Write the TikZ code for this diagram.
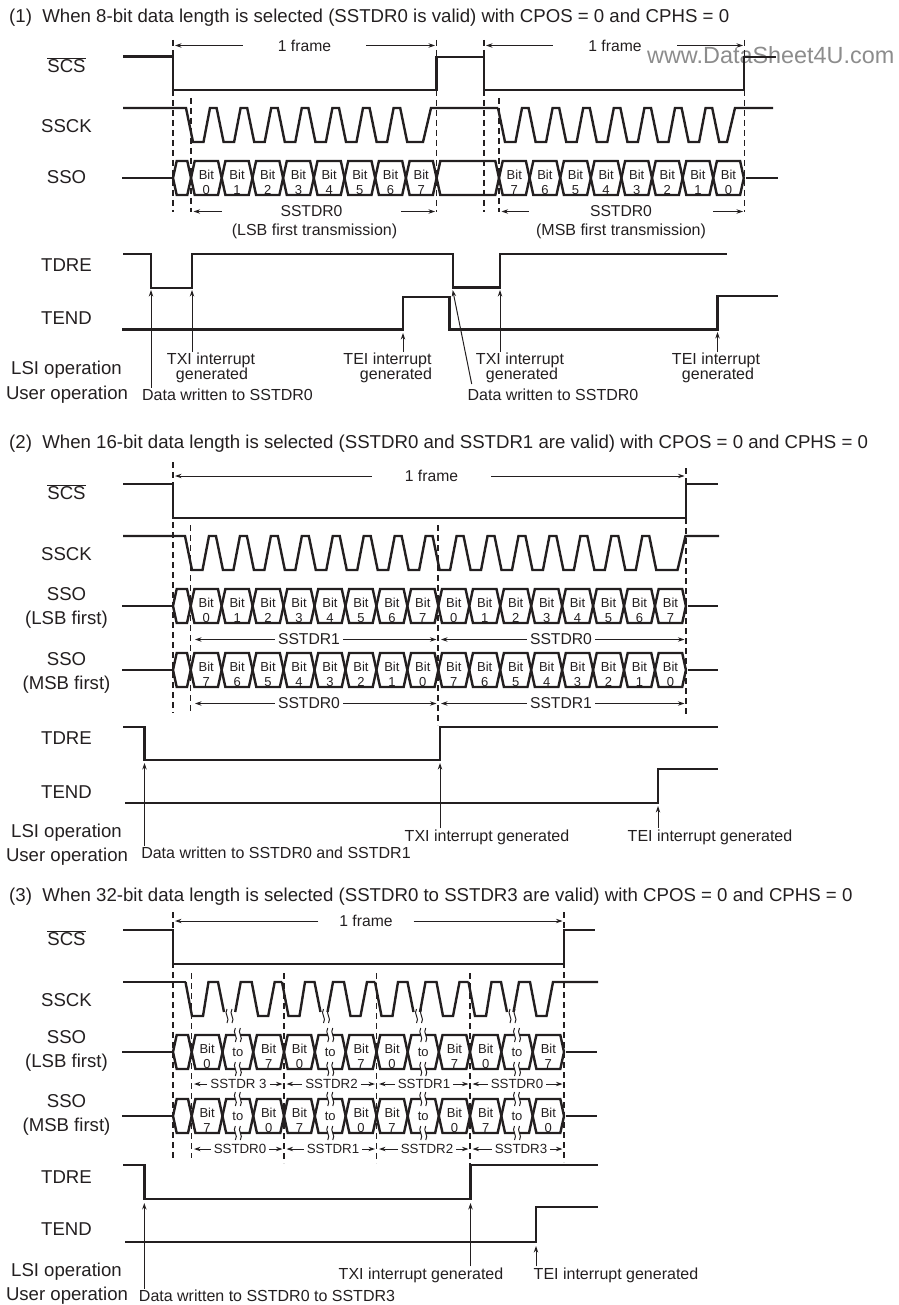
\documentclass[tikz,border=0pt]{standalone}
\usepackage{fontspec}
\setmainfont{Liberation Sans}
\usetikzlibrary{arrows.meta}
\definecolor{sigInk}{RGB}{35,31,32}
\newcommand{\busCell}[3]{\draw[wave] (#1,#3+17) -- (#1+3.7,#3) -- (#2-3.7,#3) -- (#2,#3+17) -- (#2-3.7,#3+34) -- (#1+3.7,#3+34) -- cycle;}
\newcommand{\bitRow}[5]{%
  \foreach \bitno [count=\cnt from 0] in {#5} {
    \pgfmathsetmacro{\xa}{#2+\cnt*#3}
    \pgfmathsetmacro{\xb}{\xa+#3}
    \busCell{\xa}{\xb}{#4}
    \node[bitlbl] (#1\cnt) at ({(\xa+\xb)/2},#4+21) {Bit\\\bitno};
  }}
\newcommand{\clockRow}[7]{%
  \pgfmathtruncatemacro{\nlast}{#4-2}
  \draw[wave] (#1,#5) foreach \cnt in {0,...,\nlast} {
      -- ({#2+\cnt*#3-5},#5) -- ({#2+\cnt*#3+2},#5+34) -- ({#2+\cnt*#3+12.5},#5+34) -- ({#2+\cnt*#3+19},#5)
    } -- ({#2+(#4-1)*#3-5},#5) -- ({#2+(#4-1)*#3+2},#5+34) -- (#6,#5+34) -- (#6+8,#5) -- (#7,#5);}
\newcommand{\spanMark}[7][]{%
  \node[spanlbl,#1] (#2) at (#5,#6) {#7};
  \coordinate (#2L) at (#3,#6);
  \coordinate (#2R) at (#4,#6);
  \draw[dim] (#2.west) -- (#2L);
  \draw[dim] (#2.east) -- (#2R);}
\newcommand{\wavyBreak}[2]{%
  \fill[white] (#1-2.5,#2-3) rectangle (#1+2.5,#2+3);
  \draw[brk] (#1-2.5,#2-7) .. controls (#1-6,#2-2) and (#1+1,#2+2) .. (#1-2.5,#2+7);
  \draw[brk] (#1+2.5,#2-7) .. controls (#1-1,#2-2) and (#1+6,#2+2) .. (#1+2.5,#2+7);}
\newcommand{\toRow}[4]{%
  \foreach \ga/\gb [count=\cnt] in {191.7/284,284/376.5,376.5/470,470/564} {
    \pgfmathsetmacro{\pa}{\ga+(\gb-\ga)/3}
    \pgfmathsetmacro{\pb}{\ga+2*(\gb-\ga)/3}
    \pgfmathsetmacro{\pc}{(\pa+\pb)/2}
    \busCell{\ga}{\pa}{#2}
    \busCell{\pa}{\pb}{#2}
    \busCell{\pb}{\gb}{#2}
    \node[bitlbl] (#1a\cnt) at ({(\ga+\pa)/2},#2+21) {Bit\\#3};
    \node[bitlbl] (#1t\cnt) at (\pc,#2+17) {to};
    \node[bitlbl] (#1b\cnt) at ({(\pb+\gb)/2},#2+21) {Bit\\#4};
    \wavyBreak{\pc}{#2}
    \wavyBreak{\pc}{#2+34}
  }}

\begin{document}
\begin{tikzpicture}[x=1pt,y=-1pt,
  wave/.style={draw=sigInk, line width=2.4pt, line join=miter},
  tick/.style={draw=sigInk, line width=1.1pt, dash pattern=on 6pt off 4pt},
  ptr/.style={draw=sigInk, line width=1pt, -{Stealth[length=6.5pt,width=4.4pt]}},
  dim/.style={draw=sigInk, line width=1pt, -{Stealth[length=6.5pt,width=4.4pt]}},
  brk/.style={draw=sigInk, line width=1pt},
  titlelbl/.style={anchor=west, inner sep=0pt, text=sigInk, font=\fontsize{18.64}{22}\selectfont},
  siglbl/.style={inner sep=0pt, text=sigInk, font=\fontsize{18.6}{24}\selectfont, align=center},
  notelbl/.style={inner sep=1pt, text=sigInk, font=\fontsize{16}{18}\selectfont},
  spanlbl/.style={inner sep=3pt, text=sigInk, font=\fontsize{15.7}{18}\selectfont},
  spansmall/.style={font=\fontsize{13.3}{15}\selectfont},
  bitlbl/.style={inner sep=0pt, text=sigInk, align=center, font=\fontsize{13}{15}\selectfont}
]
  \useasboundingbox (0,0) rectangle (898,1305);
  \node[anchor=west, inner sep=0pt, text=black!45, font=\fontsize{23.4}{26}\selectfont] (wmark) at (647,55) {www.DataSheet4U.com};

  \node[titlelbl] (titleA) at (9,18) {(1)~ When 8-bit data length is selected (SSTDR0 is valid) with CPOS = 0 and CPHS = 0};
  \node[siglbl] (scsA) at (66.5,65) {$\overline{\mbox{SCS}}$};
  \node[siglbl] (sckA) at (66.5,126) {SSCK};
  \node[siglbl] (ssoA) at (66.5,177) {SSO};
  \node[siglbl] (tdreA) at (66.5,265) {TDRE};
  \node[siglbl] (tendA) at (66.5,318) {TEND};
  \node[siglbl] (lsiA) at (66.5,370) {LSI operation};
  \node[siglbl] (userA) at (67,395) {User operation};

  \foreach \xd/\ya/\yb in {173/40/212,436.5/40/212,191/98/212,484/40/212,499/98/212,744.5/40/212}
    \draw[tick] (\xd,\ya) -- (\xd,\yb);

  \draw[wave] (123,56.5) -- (173,56.5) -- (173,90) -- (436.5,90) -- (436.5,57) -- (484,57) -- (484,90) -- (744,90) -- (744,57) -- (776,57);
  \clockRow{123}{191}{30.6}{8}{108}{423}{498}
  \clockRow{498}{503}{30.6}{8}{108}{727}{773}
  \draw[wave] (122,178) -- (173,178);
  \busCell{173}{191}{161}
  \bitRow{bitA}{191}{30.7}{161}{0,1,2,3,4,5,6,7}
  \busCell{436.6}{499}{161}
  \bitRow{bitB}{499}{30.6}{161}{7,6,5,4,3,2,1,0}
  \draw[wave] (746,178) -- (778,178);

  \spanMark[minimum width=123pt]{frameA}{175}{435}{304.5}{45.5}{1 frame}
  \spanMark[minimum width=124pt]{frameB}{486}{743}{615}{45.5}{1 frame}
  \spanMark[minimum width=179pt]{spanA}{193.5}{435}{311.5}{211.5}{SSTDR0}
  \spanMark[minimum width=184pt]{spanB}{501.5}{743}{621}{211.5}{SSTDR0}
  \node[notelbl] (lsbA) at (314.5,231) {(LSB first transmission)};
  \node[notelbl] (msbB) at (621,231) {(MSB first transmission)};

  \draw[wave] (123,254) -- (151,254) -- (151,288) -- (192,288) -- (192,254) -- (452.7,254) -- (452.7,287.5) -- (500,287.5) -- (500,254) -- (727,254);
  \draw[wave] (122,329.5) -- (403,329.5) -- (403,297) -- (449.5,297) -- (449.5,329.5) -- (717.5,329.5) -- (717.5,296) -- (778,296);

  \node[notelbl] (txiA) at (211,360.5) {TXI interrupt};
  \node[notelbl] (genA) at (212,375) {generated};
  \node[notelbl] (teiA) at (387.5,360.5) {TEI interrupt};
  \node[notelbl] (genB) at (396,375) {generated};
  \node[notelbl] (txiB) at (520,360.5) {TXI interrupt};
  \node[notelbl] (genC) at (522,375) {generated};
  \node[notelbl] (teiB) at (716,360.5) {TEI interrupt};
  \node[notelbl] (genD) at (718,375) {generated};
  \node[notelbl] (dataA) at (227.5,395) {Data written to SSTDR0};
  \node[notelbl] (dataB) at (553,395) {Data written to SSTDR0};

  \coordinate (tipA) at (151,290);
  \coordinate (tipB) at (192,290);
  \coordinate (tipC) at (403,333);
  \coordinate (tipD) at (452.7,290);
  \coordinate (tipE) at (500,290);
  \coordinate (tipF) at (717.5,332);
  \coordinate (tailD) at (471.7,384);
  \draw[ptr] (dataA.north -| tipA) -- (tipA);
  \draw[ptr] (txiA.north -| tipB) -- (tipB);
  \draw[ptr] (teiA.north -| tipC) -- (tipC);
  \draw[ptr] (tailD) -- (tipD);
  \draw[ptr] (txiB.north -| tipE) -- (tipE);
  \draw[ptr] (teiB.north -| tipF) -- (tipF);

  \node[titlelbl] (titleB) at (9,444) {(2)~ When 16-bit data length is selected (SSTDR0 and SSTDR1 are valid) with CPOS = 0 and CPHS = 0};
  \node[siglbl] (scsB) at (66.5,492) {$\overline{\mbox{SCS}}$};
  \node[siglbl] (sckB) at (66.5,554) {SSCK};
  \node[siglbl] (ssoB) at (66.5,608) {SSO\\(LSB first)};
  \node[siglbl] (ssoC) at (66.5,673) {SSO\\(MSB first)};
  \node[siglbl] (tdreB) at (66.5,738) {TDRE};
  \node[siglbl] (tendB) at (66.5,792) {TEND};
  \node[siglbl] (lsiB) at (66.5,833) {LSI operation};
  \node[siglbl] (userB) at (67,857) {User operation};

  \foreach \xd/\ya/\yb in {173/462/713,190.7/525/713,438/525/725,686/468/715}
    \draw[tick] (\xd,\ya) -- (\xd,\yb);

  \draw[wave] (123,484) -- (173,484) -- (173,518) -- (686,518) -- (686,484) -- (718,484);
  \clockRow{123}{190}{30.95}{16}{536}{677.5}{719}
  \draw[wave] (122,606) -- (173,606);
  \busCell{173}{190.7}{589}
  \bitRow{bitC}{190.7}{30.95}{589}{0,1,2,3,4,5,6,7,0,1,2,3,4,5,6,7}
  \draw[wave] (688,606) -- (718,606);
  \draw[wave] (122,670) -- (173,670);
  \busCell{173}{190.7}{653}
  \bitRow{bitD}{190.7}{30.95}{653}{7,6,5,4,3,2,1,0,7,6,5,4,3,2,1,0}
  \draw[wave] (688,670) -- (718,670);

  \spanMark[minimum width=119pt]{frameC}{175}{684.5}{431.5}{476}{1 frame}
  \spanMark{spanC}{195}{436.5}{309}{639.5}{SSTDR1}
  \spanMark{spanD}{441}{684.5}{561}{639.5}{SSTDR0}
  \spanMark{spanE}{195}{436.5}{309}{703.5}{SSTDR0}
  \spanMark{spanF}{441}{684.5}{561}{703.5}{SSTDR1}

  \draw[wave] (123,727) -- (144.5,727) -- (144.5,760) -- (440,760) -- (440,727) -- (718,727);
  \draw[wave] (125,803) -- (658,803) -- (658,769) -- (718,769);

  \node[notelbl] (txiC) at (487,837) {TXI interrupt generated};
  \node[notelbl] (teiC) at (710,837) {TEI interrupt generated};
  \node[notelbl] (dataC) at (276,853) {Data written to SSTDR0 and SSTDR1};
  \coordinate (tipG) at (144.5,763);
  \coordinate (tipH) at (440,763);
  \coordinate (tipI) at (658,806);
  \draw[ptr] (dataC.north -| tipG) -- (tipG);
  \draw[ptr] (txiC.north -| tipH) -- (tipH);
  \draw[ptr] (teiC.north -| tipI) -- (tipI);

  \node[titlelbl] (titleC) at (9,897) {(3)~ When 32-bit data length is selected (SSTDR0 to SSTDR3 are valid) with CPOS = 0 and CPHS = 0};
  \node[siglbl] (scsC) at (66.5,938) {$\overline{\mbox{SCS}}$};
  \node[siglbl] (sckC) at (66.5,1000) {SSCK};
  \node[siglbl] (ssoD) at (66.5,1051) {SSO\\(LSB first)};
  \node[siglbl] (ssoE) at (66.5,1115) {SSO\\(MSB first)};
  \node[siglbl] (tdreC) at (66.5,1177) {TDRE};
  \node[siglbl] (tendC) at (66.5,1229) {TEND};
  \node[siglbl] (lsiC) at (66.5,1272) {LSI operation};
  \node[siglbl] (userC) at (67,1296) {User operation};

  \foreach \xd/\ya/\yb in {173/912/1158,191.7/973/1158,284/973/1163,376.5/973/1163,470/973/1165,564/912/1162}
    \draw[tick] (\xd,\ya) -- (\xd,\yb);

  \draw[wave] (123,930) -- (173,930) -- (173,964) -- (564,964) -- (564,930) -- (595,930);
  \draw[wave] (123,982) -- (185.5,982);
  \foreach \g/\h/\nx in {192/191.7/282,288.5/284/375,381.5/376.5/468.5,475/470/598} {
    \draw[wave] (\g-6.5,982) -- (\g,1016) -- (\g+11,1016) -- (\g+16.5,982) -- (\g+26,982) -- (\g+32,1012);
    \wavyBreak{\g+37.5}{1016}
    \draw[wave] (\h+43.5,1012) -- (\h+49,982) -- (\h+60,982) -- (\h+66.5,1016) -- (\h+76.5,1016) -- (\h+83,982) -- (\nx,982);
  }
  \draw[wave] (122,1052) -- (173,1052);
  \busCell{173}{191.7}{1035}
  \toRow{bitE}{1035}{0}{7}
  \draw[wave] (566,1052) -- (597,1052);
  \draw[wave] (122,1116) -- (173,1116);
  \busCell{173}{191.7}{1099}
  \toRow{bitF}{1099}{7}{0}
  \draw[wave] (566,1116) -- (597,1116);

  \spanMark[minimum width=95pt]{frameD}{175}{562.5}{366}{921}{1 frame}
  \spanMark[spansmall]{spanG}{194}{282.5}{238.5}{1084}{SSTDR 3}
  \spanMark[spansmall]{spanH}{286.5}{375}{331.5}{1084}{SSTDR2}
  \spanMark[spansmall]{spanI}{379}{468.5}{424}{1084}{SSTDR1}
  \spanMark[spansmall]{spanJ}{472.5}{562.5}{517}{1084}{SSTDR0}
  \spanMark[spansmall]{spanK}{194}{282.5}{240}{1149}{SSTDR0}
  \spanMark[spansmall]{spanL}{286.5}{375}{333}{1149}{SSTDR1}
  \spanMark[spansmall]{spanM}{379}{468.5}{427}{1149}{SSTDR2}
  \spanMark[spansmall]{spanN}{472.5}{562.5}{521}{1149}{SSTDR3}

  \draw[wave] (123,1165) -- (144.3,1165) -- (144.3,1199) -- (470.5,1199) -- (470.5,1165) -- (598,1165);
  \draw[wave] (125,1242) -- (536,1242) -- (536,1207) -- (598,1207);

  \node[notelbl] (txiD) at (421,1275) {TXI interrupt generated};
  \node[notelbl] (teiD) at (616,1275) {TEI interrupt generated};
  \node[notelbl] (dataD) at (267,1296) {Data written to SSTDR0 to SSTDR3};
  \coordinate (tipJ) at (144.3,1203);
  \coordinate (tipK) at (470.5,1203);
  \coordinate (tipL) at (536,1246);
  \draw[ptr] (dataD.north -| tipJ) -- (tipJ);
  \draw[ptr] (txiD.north -| tipK) -- (tipK);
  \draw[ptr] (teiD.north -| tipL) -- (tipL);
\end{tikzpicture}
\end{document}
